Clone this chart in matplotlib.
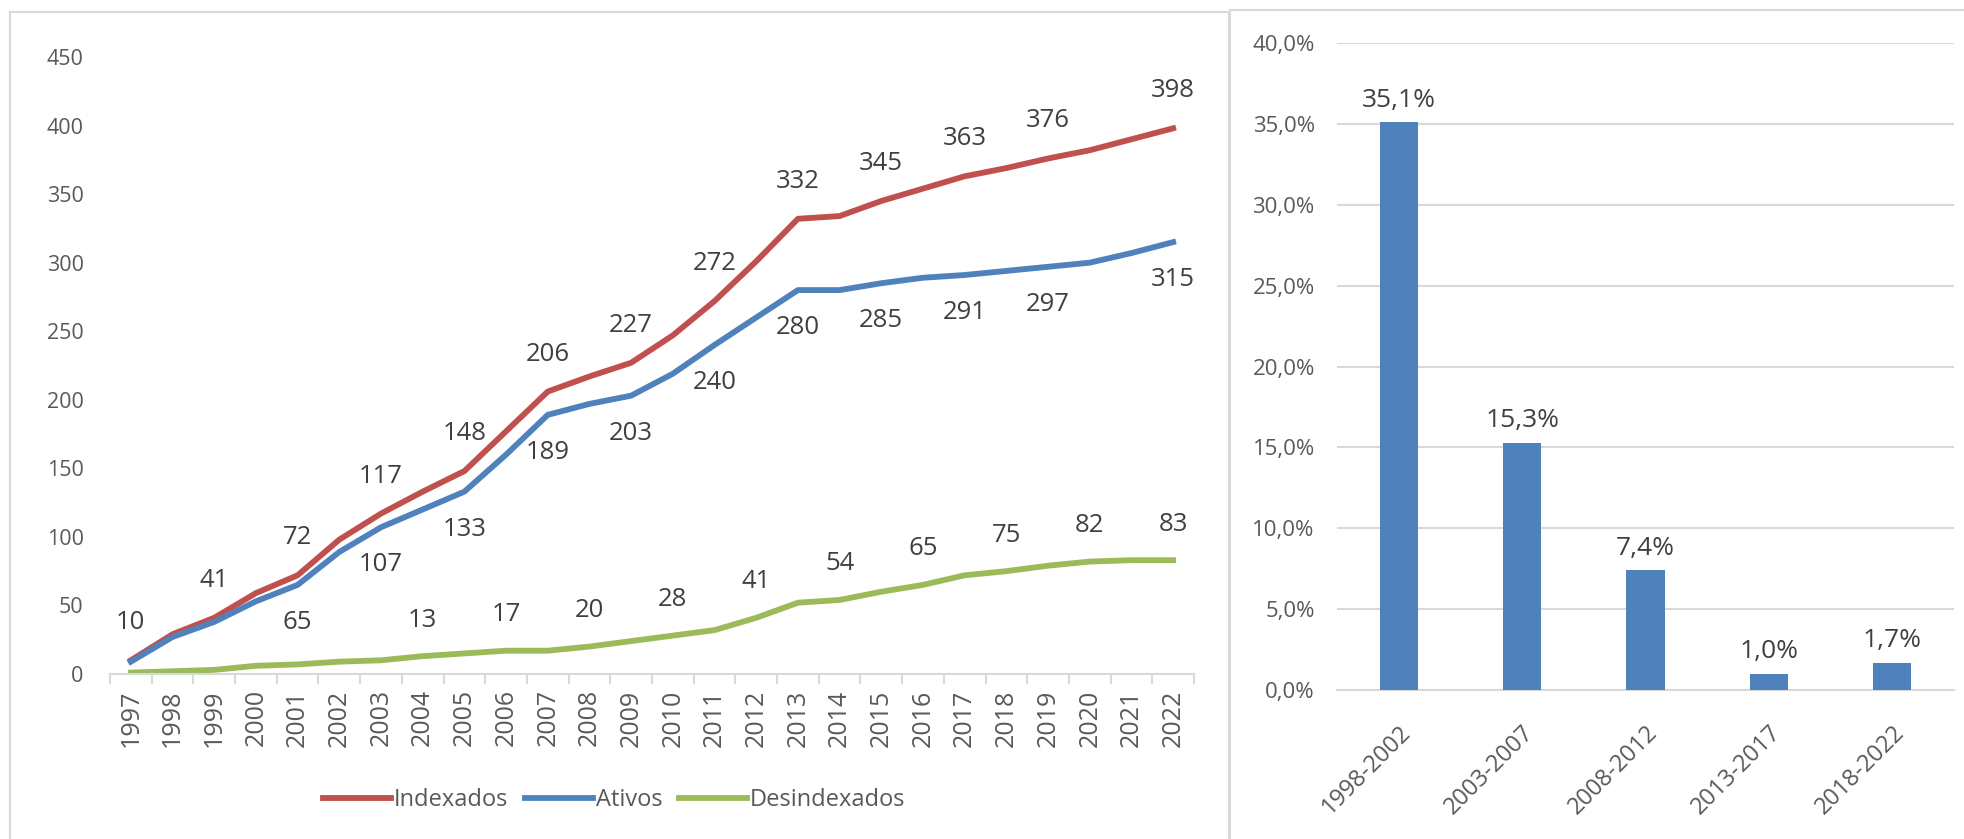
import matplotlib.pyplot as plt
from matplotlib.patches import Rectangle

plt.rcParams['font.family'] = ['Open Sans', 'DejaVu Sans']

# dados do gráfico de linhas
anos = list(range(1997, 2023))
indexados = [10, 29, 41, 59, 72, 98, 117, 133, 148, 177, 206, 217, 227, 247, 272, 301,
             332, 334, 345, 354, 363, 369, 376, 382, 390, 398]
ativos = [9, 27, 38, 53, 65, 89, 107, 120, 133, 160, 189, 197, 203, 219, 240, 260,
          280, 280, 285, 289, 291, 294, 297, 300, 307, 315]
desindexados = [1, 2, 3, 6, 7, 9, 10, 13, 15, 17, 17, 20, 24, 28, 32, 41,
                52, 54, 60, 65, 72, 75, 79, 82, 83, 83]

# anos que recebem rótulo em cada série
rot_indexados = [1997, 1999, 2001, 2003, 2005, 2007, 2009, 2011, 2013, 2015, 2017, 2019, 2022]
rot_ativos = [2001, 2003, 2005, 2007, 2009, 2011, 2013, 2015, 2017, 2019, 2022]
rot_desindexados = [2004, 2006, 2008, 2010, 2012, 2014, 2016, 2018, 2020, 2022]

# dados do gráfico de barras
periodos = ['1998-2002', '2003-2007', '2008-2012', '2013-2017', '2018-2022']
percentuais = [35.1, 15.3, 7.4, 1.0, 1.7]

vermelho = '#C0504D'
azul = '#4F81BD'
verde = '#9BBB59'
texto = '#404040'
cinza = '#595959'
grade = '#D9D9D9'

W, H = 1964, 839
fig = plt.figure(figsize=(W / 100, H / 100), dpi=100)

# molduras dos dois painéis
fig.add_artist(Rectangle((10 / W, -0.05), 1219 / W, 1.05 - 12 / H, transform=fig.transFigure,
                         fill=False, edgecolor=grade, lw=1.5))
fig.add_artist(Rectangle((1230 / W, -0.05), 800 / W, 1.05 - 10 / H, transform=fig.transFigure,
                         fill=False, edgecolor=grade, lw=1.5))

# ---- gráfico de linhas ----
ax1 = fig.add_axes([110 / W, (H - 674) / H, 1084 / W, (674 - 57) / H])
ax1.plot(anos, indexados, color=vermelho, lw=4.2, solid_joinstyle='round', label='Indexados')
ax1.plot(anos, ativos, color=azul, lw=4.2, solid_joinstyle='round', label='Ativos')
ax1.plot(anos, desindexados, color=verde, lw=4.2, solid_joinstyle='round', label='Desindexados')

for serie, rots, desloc in [(indexados, rot_indexados, 27), (ativos, rot_ativos, -27),
                            (desindexados, rot_desindexados, 26)]:
    for a in rots:
        v = serie[anos.index(a)]
        ax1.annotate(str(v), (a, v), xytext=(0, desloc), textcoords='offset points',
                     ha='center', va='center', fontsize=18.5, color=texto)

ax1.set_xlim(1996.5, 2022.5)
ax1.set_ylim(0, 450)
ax1.set_yticks(range(0, 451, 50))
ax1.set_xticks(anos)
ax1.set_xticklabels([str(a) for a in anos], rotation=90, fontsize=18, color=cinza)
ax1.set_xticks([a - 0.5 for a in anos] + [2022.5], minor=True)
ax1.tick_params(axis='x', which='major', length=0, pad=11)
ax1.tick_params(axis='x', which='minor', length=7, color=grade, width=1.5)
ax1.tick_params(axis='y', length=0, pad=19, labelsize=15.5, labelcolor=cinza)
for lado in ['top', 'right', 'left']:
    ax1.spines[lado].set_visible(False)
ax1.spines['bottom'].set_color(grade)
ax1.spines['bottom'].set_linewidth(1.5)

fig.legend(loc='center', bbox_to_anchor=(614 / W, (H - 800) / H), ncol=3, frameon=False,
           fontsize=17, handlelength=2.9, handletextpad=0.1, columnspacing=0.7,
           labelcolor=cinza)

# ---- gráfico de barras ----
ax2 = fig.add_axes([1337 / W, (H - 690) / H, 617 / W, (690 - 43) / H])
pos = range(len(periodos))
ax2.bar(pos, percentuais, width=0.31, color=azul, zorder=3)
for p, v in zip(pos, percentuais):
    ax2.annotate(f'{v:.1f}%'.replace('.', ','), (p, v), xytext=(0, 7), textcoords='offset points',
                 ha='center', va='bottom', fontsize=19, color=texto)
ax2.set_xlim(-0.5, len(periodos) - 0.5)
ax2.set_ylim(0, 40)
ax2.set_yticks(range(0, 41, 5))
ax2.set_yticklabels([f'{t:.1f}%'.replace('.', ',') for t in range(0, 41, 5)])
ax2.yaxis.grid(True, color=grade, lw=1.5, zorder=0)
ax2.set_xticks(list(pos))
ax2.set_xticklabels(periodos, rotation=45, ha='right', va='top', rotation_mode='anchor',
                    fontsize=17, color=cinza)
ax2.tick_params(axis='x', length=0, pad=22)
ax2.tick_params(axis='y', length=0, pad=16, labelsize=16, labelcolor=cinza)
for lado in ['top', 'right', 'left']:
    ax2.spines[lado].set_visible(False)
ax2.spines['bottom'].set_color(grade)
ax2.spines['bottom'].set_linewidth(1.5)

fig.savefig('out.png', dpi=100)
